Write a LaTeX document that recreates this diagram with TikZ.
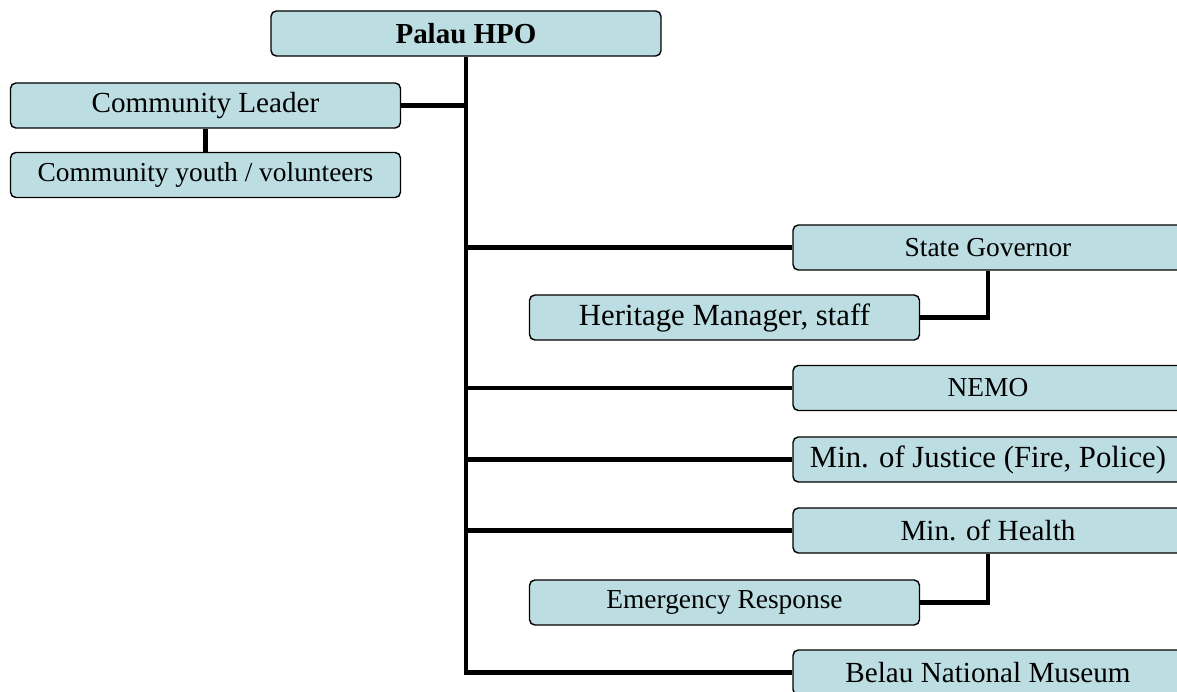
\documentclass[tikz,border=0pt]{standalone}
\usepackage{fontspec}
\setmainfont{Liberation Serif}
\definecolor{boxfill}{RGB}{188,222,227}
\tikzset{link/.style={line width=2.8pt}}
\tikzset{bigger/.style={font=\fontsize{17.5}{20}\selectfont}}
\tikzset{wider/.style={font=\fontsize{16.6}{19}\selectfont}}

\begin{document}
\begin{tikzpicture}[x=0.02cm, y=-0.02cm]
	% Default action for each node
	\tikzstyle{every node}=[draw, line width=0.8pt, rounded corners=3pt, fill=boxfill, minimum width=7.8cm, minimum height=0.9cm, inner sep=0pt, font=\fontsize{15.6}{18}\selectfont];

	\clip (0,0) rectangle (1177,692);

	% TOP
	\node[font=\fontsize{16.5}{19}\selectfont\bfseries] (hpo) at (466,33.5) {Palau HPO};

	% LEFT
	\node[wider] (leader) at (205.5,105.5) {Community Leader};
	\node (youth) at (205.5,175) {Community youth / volunteers};

	% RIGHT
	\node (governor) at (988,247.5) {State Governor};
	\node[bigger] (heritage) at (724.5,317.5) {Heritage Manager, staff};
	\node (nemo) at (988,388) {NEMO};
	\node[bigger] (justice) at (988,459.5) {Min. of Justice (Fire, Police)};
	\node[wider] (health) at (988,530.5) {Min. of Health};
	\node (emergency) at (724.5,602.5) {Emergency Response};
	\node[wider] (museum) at (988,672.5) {Belau National Museum};

	% Trunk
	\draw[link] (hpo.south) |- (museum.west);
	\draw[link] (leader.east) -- (leader.east -| hpo.south);
	\draw[link] (leader.south) -- (youth.north);

	% Branches
	\draw[link] (governor.west -| hpo.south) -- (governor.west);
	\draw[link] (nemo.west -| hpo.south) -- (nemo.west);
	\draw[link] (justice.west -| hpo.south) -- (justice.west);
	\draw[link] (health.west -| hpo.south) -- (health.west);

	% Drops
	\draw[link] (governor.south) |- (heritage.east);
	\draw[link] (health.south) |- (emergency.east);

\end{tikzpicture}
\end{document}
